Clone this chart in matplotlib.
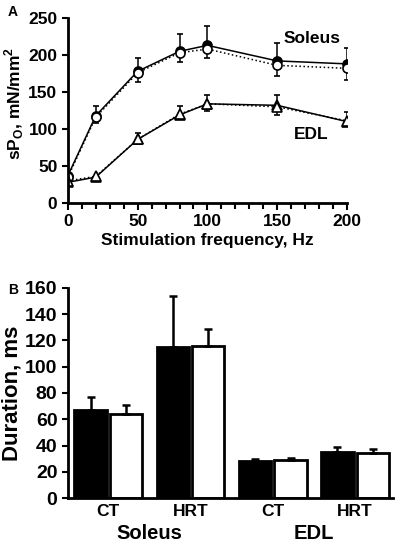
import numpy as np
import matplotlib.pyplot as plt

plt.rcParams['font.family'] = ['Liberation Sans', 'DejaVu Sans']
plt.rcParams['font.weight'] = 'bold'

# --- Panel A: tetanic force vs stimulation frequency ---
freq = [0, 20, 50, 80, 100, 150, 200]

sol_ct = [37, 118, 178, 205, 213, 192, 188]
sol_ct_top = [37, 131, 196, 229, 239, 216, 209]
sol_hrt = [35, 116, 176, 203, 208, 186, 182]
sol_hrt_bot = [35, 108, 164, 191, 196, 172, 166]

edl_ct = [28, 35, 86, 119, 134, 132, 110]
edl_ct_top = [28, 35, 95, 131, 146, 146, 123]
edl_hrt = [30, 36, 86, 120, 134, 130, 111]
edl_hrt_bot = [30, 36, 80, 113, 124, 119, 105]

# --- Panel B: durations ---
groups = ['CT', 'HRT', 'CT', 'HRT']
muscles = ['Soleus', 'EDL']
dur_filled = [67, 115, 28, 35]
dur_filled_err = [10, 39, 2, 4]
dur_open = [64, 116, 29, 34]
dur_open_err = [7, 13, 1.5, 3]

fig = plt.figure(figsize=(3.97, 5.45), dpi=100)

axA = fig.add_axes([0.171, 0.6275, 0.703, 0.3395])
axB = fig.add_axes([0.171, 0.0862, 0.819, 0.3854])

# A
def up(v, top):
    return [np.zeros(len(v)), np.array(top) - np.array(v)]

def down(v, bot):
    return [np.array(v) - np.array(bot), np.zeros(len(v))]

kw = dict(color='black', lw=1.1, capsize=2, elinewidth=1.1, markersize=6.5,
          markeredgewidth=1.2, markeredgecolor='black')
axA.errorbar(freq, sol_ct, yerr=up(sol_ct, sol_ct_top), fmt='-o',
             markerfacecolor='black', **kw)
axA.errorbar(freq, sol_hrt, yerr=down(sol_hrt, sol_hrt_bot), fmt='o',
             markerfacecolor='white', ls=':', **kw)
axA.errorbar(freq, edl_ct, yerr=up(edl_ct, edl_ct_top), fmt='-^',
             markerfacecolor='black', **kw)
axA.errorbar(freq, edl_hrt, yerr=down(edl_hrt, edl_hrt_bot), fmt='^',
             markerfacecolor='white', ls=':', **kw)

axA.text(175, 222, 'Soleus', ha='center', va='center', fontsize=12.5, fontweight='bold')
axA.text(174, 92, 'EDL', ha='center', va='center', fontsize=12.5, fontweight='bold')

axA.set_xlim(0, 200)
axA.set_ylim(0, 250)
axA.set_xticks([0, 50, 100, 150, 200])
axA.set_xticks(np.arange(0, 201, 10), minor=True)
axA.set_yticks([0, 50, 100, 150, 200, 250])
axA.set_xlabel('Stimulation frequency, Hz', fontsize=12.5, fontweight='bold', labelpad=3)
axA.set_ylabel('sP$_\\mathregular{O}$, mN/mm$^\\mathregular{2}$', fontsize=12.5, fontweight='bold')
axA.yaxis.set_label_coords(-0.15, 0.54)
axA.spines['top'].set_visible(False)
axA.spines['right'].set_visible(False)
for s in ['left', 'bottom']:
    axA.spines[s].set_linewidth(2)
axA.tick_params(which='major', width=1.5, length=4, labelsize=12.5)
axA.tick_params(which='minor', width=1.5, length=4)
axA.tick_params(axis='x', which='major', length=5, pad=3)

# B
x = np.arange(len(groups))
w = 0.39
off = 0.215
axB.bar(x - off, dur_filled, w, color='black', edgecolor='black', lw=2,
        yerr=[np.zeros(4), dur_filled_err], capsize=3,
        error_kw=dict(elinewidth=1.8, capthick=1.8, ecolor='black'))
axB.bar(x + off, dur_open, w, color='white', edgecolor='black', lw=2,
        yerr=[np.zeros(4), dur_open_err], capsize=3,
        error_kw=dict(elinewidth=1.8, capthick=1.8, ecolor='black'))
axB.set_xlim(-0.49, 3.46)
axB.set_ylim(0, 160)
axB.set_yticks(np.arange(0, 161, 20))
axB.set_xticks(x)
axB.set_xticklabels(groups, fontsize=12.5)
axB.tick_params(axis='x', length=0, pad=4)
axB.tick_params(axis='y', width=1.5, length=4, labelsize=14)
axB.set_ylabel('Duration, ms', fontsize=16, fontweight='bold', labelpad=2)
axB.spines['top'].set_visible(False)
axB.spines['right'].set_visible(False)
for s in ['left', 'bottom']:
    axB.spines[s].set_linewidth(2)
for i, m in enumerate(muscles):
    axB.text(0.5 + 2 * i, -27, m, ha='center', va='center', fontsize=14.5,
             fontweight='bold', clip_on=False)

fig.text(0.02, 0.978, 'A', fontsize=10, fontweight='bold', va='center')
fig.text(0.02, 0.468, 'B', fontsize=10, fontweight='bold', va='center')

fig.savefig('out.png', dpi=100)
